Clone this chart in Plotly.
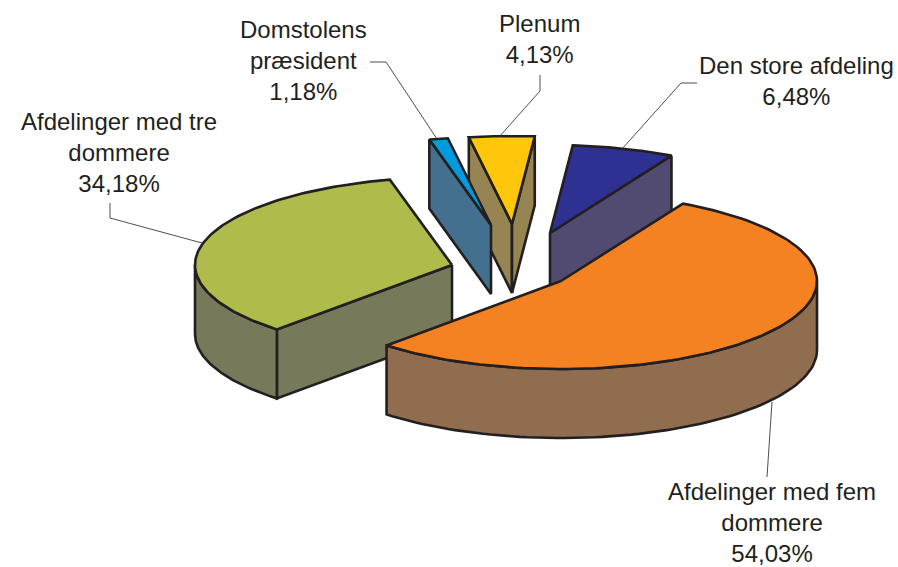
import numpy as np
import plotly.graph_objects as go

# --- data (clockwise order, starting at the top) ---
categories = ["Den store afdeling", "Afdelinger med fem dommere", "Afdelinger med tre dommere",
              "Domstolens præsident", "Plenum"]
shares = [6.48, 54.03, 34.18, 1.18, 4.13]
labels = ["Den store afdeling<br>6,48%", "Afdelinger med fem<br>dommere<br>54,03%",
          "Afdelinger med tre<br>dommere<br>34,18%", "Domstolens<br>præsident<br>1,18%",
          "Plenum<br>4,13%"]
top_colors = ["#2E3192", "#F58220", "#AFBB4B", "#009BDE", "#FFC60B"]
side_colors = ["#514A71", "#8F6D4E", "#76795A", "#43708E", "#968553"]

# --- projection of the 3D pie into the pixel-based axes ---
FIRST_ANGLE = 5.12
RX, RY, DEPTH = 255.0, 88.0, 69.0
apex = {0: (550, 233), 1: (561, 281), 2: (452, 265), 3: (491, 225), 4: (512, 224)}
rx_scale = {1: 256 / 255, 2: 257 / 255}
draw_order = [0, 4, 3, 2, 1]
OUTLINE = "#231F20"
label_pos = {0: (796, 81), 1: (772, 522), 2: (119, 152.5), 3: (303, 60.5), 4: (539, 39)}
leaders = {
    0: ([697, 681, 622], [83, 83, 149]),
    1: ([772, 767], [402, 477]),
    2: ([110, 110, 202], [203, 218, 243]),
    3: ([370, 386, 437], [62, 62, 139]),
    4: ([540, 540, 499], [75, 91, 137]),
}

fracs = np.array(shares) / sum(shares) * 360
starts = FIRST_ANGLE + np.concatenate([[0], np.cumsum(fracs)[:-1]])


def pt(i, deg, dz=0.0):
    a = np.radians(deg)
    cx, cy = apex[i]
    return cx + RX * rx_scale.get(i, 1) * np.sin(a), cy - RY * np.cos(a) + dz


def face(name, xs, ys, color):
    return go.Scatter(x=list(xs), y=list(ys), mode="lines", fill="toself", fillcolor=color,
                      line=dict(color=OUTLINE, width=2.6), hoverinfo="skip",
                      showlegend=False, name=name)


fig = go.Figure()
for i in draw_order:
    s, e = starts[i], starts[i] + fracs[i]
    cx, cy = apex[i]
    # radial faces: drawn only when their outward normal points toward the viewer
    for phi, normal in ((s, s - 90), (e, e + 90)):
        if np.cos(np.radians(normal)) < 0:
            x1, y1 = pt(i, phi)
            fig.add_trace(face(categories[i], [cx, x1, x1, cx, cx],
                               [cy, y1, y1 + DEPTH, cy + DEPTH, cy], side_colors[i]))
    # curved outer wall, only where it faces the viewer
    lo, hi = None, None
    for k in (0, 360, -360):
        l, h = max(s + k, 90), min(e + k, 270)
        if l < h:
            lo, hi = l, h
    if lo is not None:
        t = np.linspace(lo, hi, 80)
        xt, yt = pt(i, t)
        xb, yb = pt(i, t[::-1], DEPTH)
        fig.add_trace(face(categories[i], np.r_[xt, xb, xt[0]], np.r_[yt, yb, yt[0]], side_colors[i]))
    # top
    t = np.linspace(s, e, 120)
    xt, yt = pt(i, t)
    fig.add_trace(face(categories[i], np.r_[cx, xt, cx], np.r_[cy, yt, cy], top_colors[i]))

for i in range(len(categories)):
    lx, ly = leaders[i]
    fig.add_trace(go.Scatter(x=lx, y=ly, mode="lines", line=dict(color="#3a3a3a", width=0.9),
                             hoverinfo="skip", showlegend=False))
    ax, ay = label_pos[i]
    fig.add_annotation(x=ax, y=ay, text=labels[i], showarrow=False, xanchor="center", yanchor="middle",
                       align="center", font=dict(family="Liberation Sans", size=24, color="#231F20"))

fig.update_xaxes(range=[0, 898], visible=False, fixedrange=True)
fig.update_yaxes(range=[567, 0], visible=False, fixedrange=True)
fig.update_layout(width=898, height=567, margin=dict(l=0, r=0, t=0, b=0),
                  paper_bgcolor="white", plot_bgcolor="white", showlegend=False)
fig.write_html("out.html", config={"displayModeBar": False},
               post_script="document.body.style.margin='0';document.documentElement.style.overflow='hidden';")
